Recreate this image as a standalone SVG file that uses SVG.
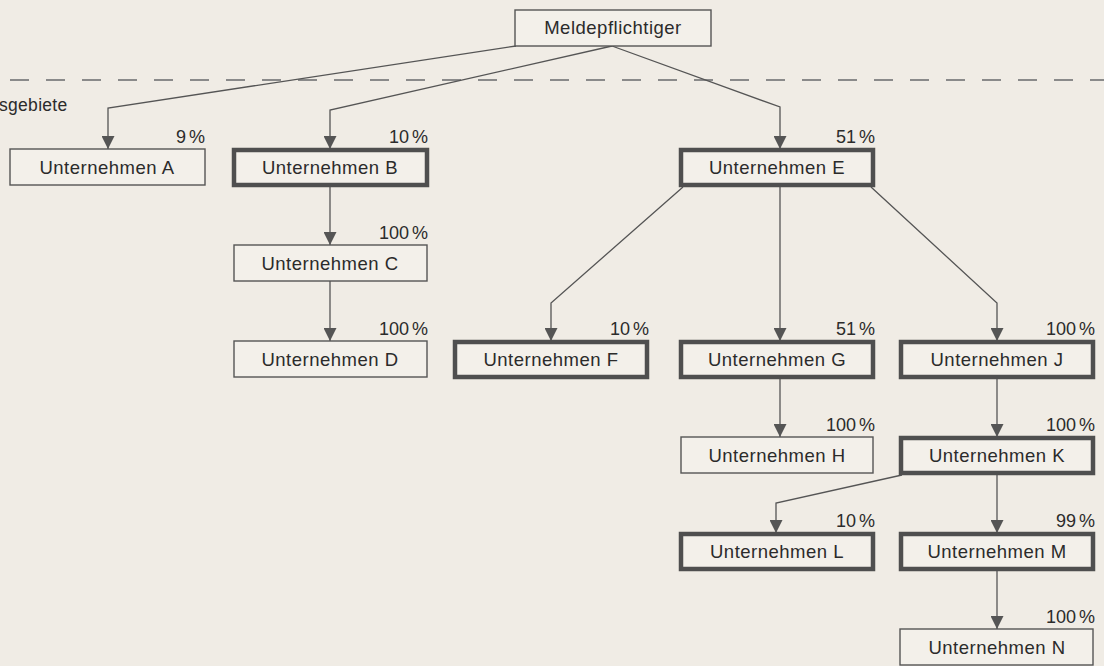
<svg xmlns="http://www.w3.org/2000/svg" width="1104" height="666" viewBox="0 0 1104 666">
<defs>
<style>
.bg{fill:#f0ece5}
.box{fill:#f3f0ea;stroke:#555;stroke-width:1.4}
.bold{fill:#f3f0ea;stroke:#4f4f4f;stroke-width:4.5}
.t{font-family:"Liberation Sans",Arial,sans-serif;font-size:18.5px;fill:#2b2b2b;text-anchor:middle;letter-spacing:0.5px}
.p{font-family:"Liberation Sans",Arial,sans-serif;font-size:18px;fill:#2b2b2b;text-anchor:end;word-spacing:-2px}
.c{fill:none;stroke:#555;stroke-width:1.3}
.dash{fill:none;stroke:#8a8a8a;stroke-width:2;stroke-dasharray:19 17}
</style>
<marker id="ah" viewBox="0 0 12 12" refX="12" refY="6" markerWidth="13" markerHeight="13" markerUnits="userSpaceOnUse" orient="auto">
<path d="M0,0 L12,6 L0,12 Z" fill="#555"/>
</marker>
</defs>
<rect class="bg" x="0" y="0" width="1104" height="666"/>
<line class="dash" x1="10" y1="80" x2="1104" y2="80"/>
<text class="t" x="-1" y="111" style="text-anchor:start;font-size:17.5px;letter-spacing:0.3px">sgebiete</text>

<g id="connectors">
<polyline class="c" points="516,46 108,108 108,149" marker-end="url(#ah)"/>
<polyline class="c" points="612,46 330,110 330,149" marker-end="url(#ah)"/>
<polyline class="c" points="612,46 780,107 780,149" marker-end="url(#ah)"/>
<line class="c" x1="330" y1="185" x2="330" y2="245" marker-end="url(#ah)"/>
<line class="c" x1="330" y1="281" x2="330" y2="341" marker-end="url(#ah)"/>
<polyline class="c" points="683,187 551,303 551,341" marker-end="url(#ah)"/>
<line class="c" x1="780" y1="187" x2="780" y2="341" marker-end="url(#ah)"/>
<polyline class="c" points="871,187 997,303 997,341" marker-end="url(#ah)"/>
<line class="c" x1="780" y1="377" x2="780" y2="437" marker-end="url(#ah)"/>
<line class="c" x1="997" y1="379" x2="997" y2="437" marker-end="url(#ah)"/>
<polyline class="c" points="902,475 776,503 776,533" marker-end="url(#ah)"/>
<line class="c" x1="997" y1="475" x2="997" y2="533" marker-end="url(#ah)"/>
<line class="c" x1="997" y1="571" x2="997" y2="629" marker-end="url(#ah)"/>
</g>

<g id="meldepflichtiger"><rect class="box" x="515" y="10" width="196" height="36"/><text class="t" x="613" y="34">Meldepflichtiger</text></g>

<g id="A"><rect class="box" x="10" y="149" width="195" height="36"/><text class="t" x="107" y="173.5">Unternehmen A</text><text class="p" x="205" y="143">9 %</text></g>
<g id="B"><rect class="bold" x="234" y="150" width="193" height="35"/><text class="t" x="330" y="174">Unternehmen B</text><text class="p" x="428" y="143">10 %</text></g>
<g id="E"><rect class="bold" x="681" y="150" width="192" height="35"/><text class="t" x="777" y="174">Unternehmen E</text><text class="p" x="875" y="143">51 %</text></g>

<g id="C"><rect class="box" x="234" y="245" width="193" height="36"/><text class="t" x="330" y="269.5">Unternehmen C</text><text class="p" x="428" y="239">100 %</text></g>

<g id="D"><rect class="box" x="234" y="341" width="193" height="36"/><text class="t" x="330" y="365.5">Unternehmen D</text><text class="p" x="428" y="335">100 %</text></g>
<g id="F"><rect class="bold" x="455" y="342" width="192" height="35"/><text class="t" x="551" y="366">Unternehmen F</text><text class="p" x="649" y="335">10 %</text></g>
<g id="G"><rect class="bold" x="681" y="342" width="192" height="35"/><text class="t" x="777" y="366">Unternehmen G</text><text class="p" x="875" y="335">51 %</text></g>
<g id="J"><rect class="bold" x="901" y="342" width="192" height="35"/><text class="t" x="997" y="366">Unternehmen J</text><text class="p" x="1095" y="335">100 %</text></g>

<g id="H"><rect class="box" x="681" y="437" width="192" height="36"/><text class="t" x="777" y="461.5">Unternehmen H</text><text class="p" x="875" y="431">100 %</text></g>
<g id="K"><rect class="bold" x="901" y="438" width="192" height="35"/><text class="t" x="997" y="462">Unternehmen K</text><text class="p" x="1095" y="431">100 %</text></g>

<g id="L"><rect class="bold" x="681" y="534" width="192" height="35"/><text class="t" x="777" y="558">Unternehmen L</text><text class="p" x="875" y="527">10 %</text></g>
<g id="M"><rect class="bold" x="901" y="534" width="192" height="35"/><text class="t" x="997" y="558">Unternehmen M</text><text class="p" x="1095" y="527">99 %</text></g>

<g id="N"><rect class="box" x="900" y="629" width="193" height="36"/><text class="t" x="997" y="653.5">Unternehmen N</text><text class="p" x="1095" y="623">100 %</text></g>
</svg>
